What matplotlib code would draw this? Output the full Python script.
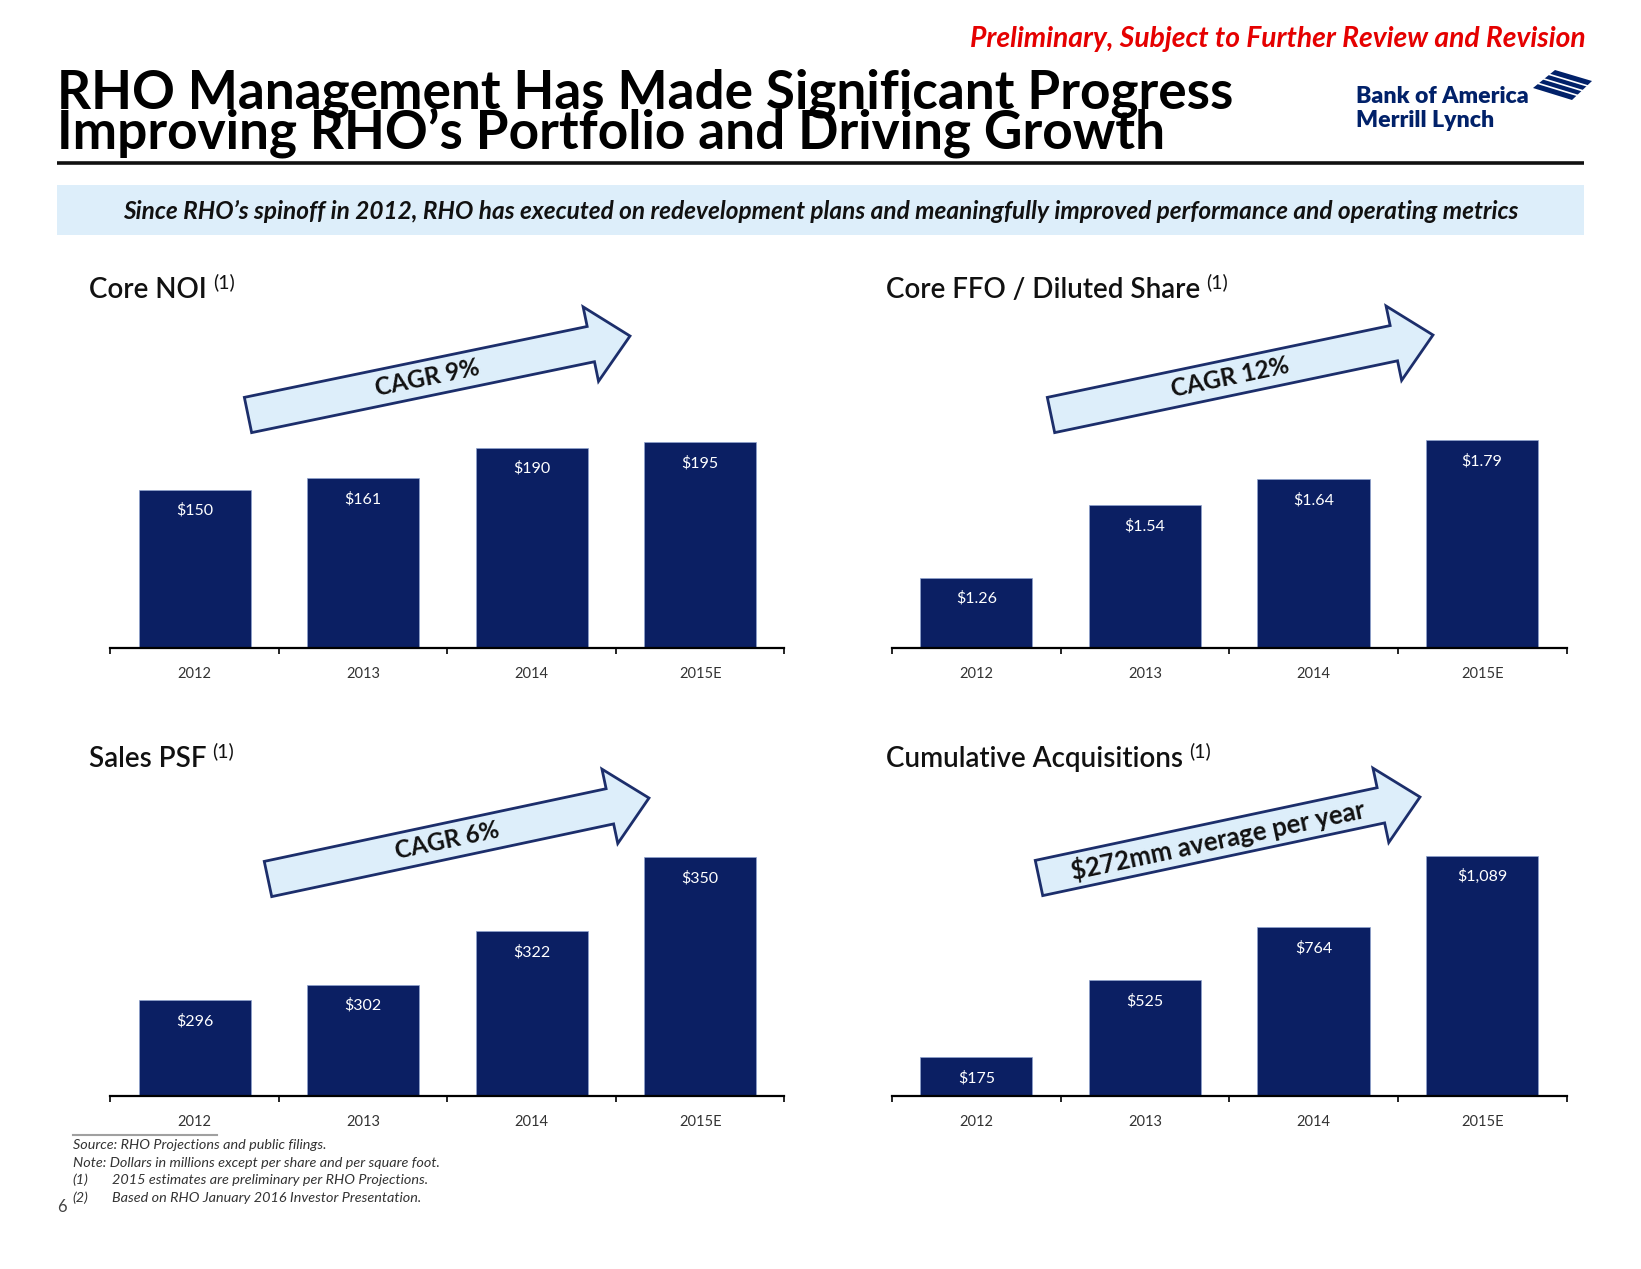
import numpy as np
import matplotlib
matplotlib.use('Agg')
import matplotlib.pyplot as plt
import matplotlib.patches as mpatches

plt.rcParams['font.family'] = ['Lato', 'DejaVu Sans']

# data
years = ['2012', '2013', '2014', '2015E']
core_noi = [150, 161, 190, 195]
core_ffo = [1.26, 1.54, 1.64, 1.79]
sales_psf = [296, 302, 322, 350]
cum_acq = [175, 525, 764, 1089]
noi_labels = ['$150', '$161', '$190', '$195']
ffo_labels = ['$1.26', '$1.54', '$1.64', '$1.79']
psf_labels = ['$296', '$302', '$322', '$350']
acq_labels = ['$175', '$525', '$764', '$1,089']

NAVY = '#0B1F63'
ARROW_FILL = '#DDEEFA'
ARROW_EDGE = '#1C2E6B'

W, H = 1641, 1269
fig = plt.figure(figsize=(W / 100, H / 100), dpi=100)
renderer = fig.canvas.get_renderer()

# overlay in pixel coordinates for the slide decoration
ov = fig.add_axes([0, 0, 1, 1])
ov.set_xlim(0, W)
ov.set_ylim(H, 0)
ov.axis('off')


def fit(t, width):
    bb = t.get_window_extent(renderer)
    t.set_fontsize(t.get_fontsize() * width / bb.width)


def px_axes(left, top, right, bottom):
    return fig.add_axes([left / W, 1 - bottom / H, (right - left) / W, (bottom - top) / H])


def bar_panel(rect, values, labels, ylim):
    ax = px_axes(*rect)
    x = np.arange(len(values))
    ax.bar(x, values, width=0.665, color=NAVY, edgecolor='#8FA3CF', linewidth=0.5)
    ax.set_xlim(-0.5, len(values) - 0.5)
    ax.set_ylim(*ylim)
    for s in ['top', 'right', 'left']:
        ax.spines[s].set_visible(False)
    ax.spines['bottom'].set_linewidth(1.6)
    ax.set_yticks([])
    ax.set_xticks(np.arange(-0.5, len(values), 1))
    ax.set_xticklabels([])
    ax.tick_params(axis='x', which='major', direction='out', length=4, width=1.2)
    ax.set_xticks(x, minor=True)
    ax.set_xticklabels(years, minor=True)
    ax.tick_params(axis='x', which='minor', length=0, pad=14, labelsize=10.5, labelcolor='#333333')
    ax.patch.set_visible(False)
    for xi, v, lab in zip(x, values, labels):
        ax.annotate(lab, (xi, v), xytext=(0, -15), textcoords='offset points',
                    ha='center', va='center', color='white', fontsize=11.5)
    return ax


def growth_arrow(tail, tip, text, size):
    (x0, y0), (x1, y1) = tail, tip
    ov.add_patch(mpatches.FancyArrow(x0, y0, x1 - x0, y1 - y0, width=36, head_width=76,
                                     head_length=40, length_includes_head=True,
                                     fc=ARROW_FILL, ec=ARROW_EDGE, lw=2))
    ang = np.degrees(np.arctan2(y0 - y1, x1 - x0))
    f = 0.47
    ov.text(x0 + f * (x1 - x0), y0 + f * (y1 - y0), text, rotation=ang, rotation_mode='anchor',
            ha='center', va='center', fontsize=size, fontweight='bold', color='#111111')


def panel_title(x, y, text):
    t = ov.text(x, y, text, fontsize=20, va='baseline', color='#111111', fontweight='semibold')
    bb = t.get_window_extent(renderer)
    ov.text(bb.x1 + 6, y - 10, '(1)', fontsize=14, va='baseline', color='#111111')


# header
red = ov.text(1586, 46.7, 'Preliminary, Subject to Further Review and Revision', ha='right',
              va='baseline', color='#E50000', fontsize=15, fontweight='bold', fontstyle='italic')
fit(red, 618)
# two-line title; baseline alignment refers to the second line
title = ov.text(57, 148, 'RHO Management Has Made Significant Progress\n'
                'Improving RHO\u2019s Portfolio and Driving Growth', fontsize=32,
                fontweight='bold', va='baseline', color='black', linespacing=0.72)
fit(title, 1181)
ov.plot([57, 1584], [163, 163], color='#111111', lw=2.6, solid_capstyle='butt')

# logo
b1 = ov.text(1356, 103, 'Bank of America', fontweight='heavy', color='#012169', fontsize=17, va='baseline')
fit(b1, 172)
ov.text(1356, 127, 'Merrill Lynch', fontweight='heavy', color='#012169', fontsize=b1.get_fontsize(), va='baseline')
flag = [(1533, 88), (1555, 70), (1592, 81), (1572, 100)]
ov.add_patch(mpatches.Polygon(flag, closed=True, color='#012169', lw=0))
for t in (0.25, 0.5, 0.75):
    pa = (flag[0][0] + t * (flag[1][0] - flag[0][0]), flag[0][1] + t * (flag[1][1] - flag[0][1]))
    pb = (flag[3][0] + t * (flag[2][0] - flag[3][0]), flag[3][1] + t * (flag[2][1] - flag[3][1]))
    ov.plot([pa[0], pb[0]], [pa[1], pb[1]], color='white', lw=1.2)

# banner
ov.add_patch(mpatches.Rectangle((57, 185), 1527, 50, color='#DDEEFA', lw=0))
bt = ov.text(820.5, 211, 'Since RHO\u2019s spinoff in 2012, RHO has executed on redevelopment plans and '
             'meaningfully improved performance and operating metrics', ha='center', va='center',
             fontsize=14, fontweight='bold', fontstyle='italic', color='#111111')
fit(bt, 1396)

# panels
panel_title(89, 298, 'Core NOI')
panel_title(886, 298, 'Core FFO / Diluted Share')
panel_title(89, 767, 'Sales PSF')
panel_title(886, 767, 'Cumulative Acquisitions')

bar_panel((110.4, 395, 784.4, 648), core_noi, noi_labels, (0, 240))
bar_panel((892, 388, 1566.5, 648), core_ffo, ffo_labels, (0.99, 1.99))
bar_panel((110.4, 830.6, 784.4, 1096), sales_psf, psf_labels, (260, 360))
bar_panel((892, 831.2, 1566.5, 1096), cum_acq, acq_labels, (0, 1200))

growth_arrow((248, 415), (630, 336), 'CAGR 9%', 17.5)
growth_arrow((1051, 415), (1433, 335), 'CAGR 12%', 17.5)
growth_arrow((268, 879), (649, 798), 'CAGR 6%', 17.5)
growth_arrow((1039, 878), (1420, 797), '$272mm average per year', 18.5)

# footnotes
ov.plot([72.7, 216.7], [1135, 1135], color='#A0A0A0', lw=1.5)
src = ov.text(72.7, 1149.3, 'Source: RHO Projections and public filings.', fontsize=7.5,
              fontstyle='italic', color='#333333', va='baseline')
note = ov.text(72.7, 1166.7, 'Note: Dollars in millions except per share and per square foot.',
               fontsize=7.5, fontstyle='italic', color='#333333', va='baseline')
fit(note, 364)
src.set_fontsize(note.get_fontsize())
notes = [(72.7, 1184, '(1)'), (111.7, 1184, '2015 estimates are preliminary per RHO Projections.'),
         (72.7, 1201.7, '(2)'), (111.7, 1201.7, 'Based on RHO January 2016 Investor Presentation.')]
for x, y, s in notes:
    ov.text(x, y, s, fontsize=note.get_fontsize(), fontstyle='italic', color='#333333', va='baseline')
ov.text(57, 1207, '6', fontsize=12, color='#444444', va='center')

fig.savefig('out.png', dpi=100)
